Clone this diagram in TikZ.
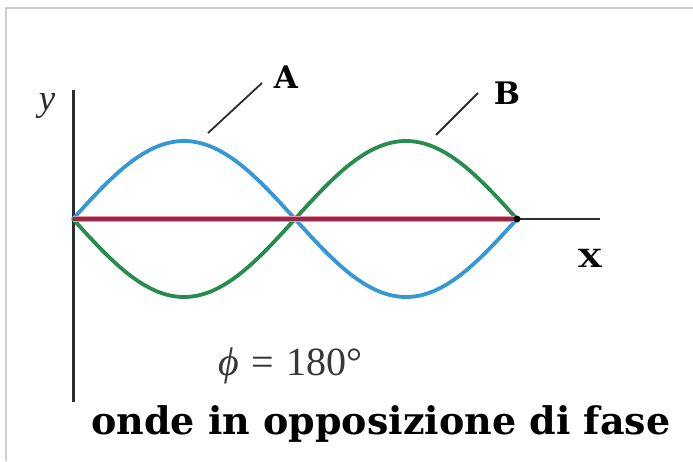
\documentclass[tikz,border=0pt]{standalone}
\usepackage{fontspec}
\newfontfamily\slabbold{DejaVu Serif}[BoldFont={DejaVu Serif Bold}]
\newfontfamily\timesit{Liberation Serif}
\definecolor{framegray}{RGB}{205,205,205}
\definecolor{axisgray}{RGB}{45,45,45}
\definecolor{waveblue}{RGB}{52,152,214}
\definecolor{wavegreen}{RGB}{40,140,80}
\definecolor{wavered}{RGB}{150,40,70}
\definecolor{wavepink}{RGB}{235,150,170}
\definecolor{phigray}{RGB}{55,55,55}
\tikzset{
  framestyle/.style={draw=framegray,line width=2pt},
  axisstyle/.style={draw=axisgray,line width=3pt},
  xaxisstyle/.style={draw=axisgray,line width=2.2pt},
  wavestyle/.style={line width=3.8pt,line cap=round},
  leader/.style={draw=axisgray,line width=1.8pt},
  letterlabel/.style={inner sep=0pt,font=\slabbold\bfseries\fontsize{31}{33}\selectfont},
}
\begin{document}
\begin{tikzpicture}[x=1pt,y=-1pt]
\useasboundingbox (0,0) rectangle (693,461);
\fill[white] (0,0) rectangle (693,461);
% frame (left and top)
\coordinate (f1) at (6,461);
\coordinate (f2) at (6,8);
\coordinate (f3) at (693,8);
\draw[framestyle] (f1) -- (f2) -- (f3);
% axes
\coordinate (yb) at (73,402);
\coordinate (yt) at (73,90);
\coordinate (o) at (73,219);
\coordinate (xe) at (600,219);
\coordinate (wend) at (517,219);
\draw[axisstyle] (yb) -- (yt);
\draw[xaxisstyle] (o) -- (xe);
% waves
\draw[waveblue,wavestyle] plot[domain=0:444,samples=121,smooth] ({73+\x},{219-78*sin(\x/222*180)});
\draw[wavegreen,wavestyle] plot[domain=0:444,samples=121,smooth] ({73+\x},{219+78*sin(\x/222*180)});
\draw[wavepink,line width=5.5pt] (o) -- (wend);
\draw[wavered,line width=3.2pt] (o) -- (wend);
\fill[black] (wend) circle (3.5pt);
% labels
\node[inner sep=0pt,font=\timesit\itshape\fontsize{37}{39}\selectfont,text=axisgray] (ylab) at (47,106) {y};
\node[inner sep=0pt,font=\slabbold\bfseries\fontsize{25}{28}\selectfont,xscale=1.25] (xlab) at (590,258) {X};
\node[letterlabel,anchor=base] (alab) at (286,88) {A};
\node[letterlabel,anchor=base] (blab) at (507,104) {B};
\coordinate (a0) at (208,133);
\coordinate (a1) at (262,83);
\coordinate (b0) at (436,135);
\coordinate (b1) at (478,93);
\draw[leader] (a0) -- (a1);
\draw[leader] (b0) -- (b1);
\node[inner sep=0pt,anchor=base west,text=phigray,font=\timesit\fontsize{40}{44}\selectfont] (phi) at (218,375) {{\itshape ϕ}\hspace{3pt} = \hspace{2pt}180°};
\node[inner sep=0pt,anchor=base west,font=\slabbold\bfseries\fontsize{38}{42}\selectfont] (caption) at (91,434) {onde in opposizione di fase};
\end{tikzpicture}
\end{document}
